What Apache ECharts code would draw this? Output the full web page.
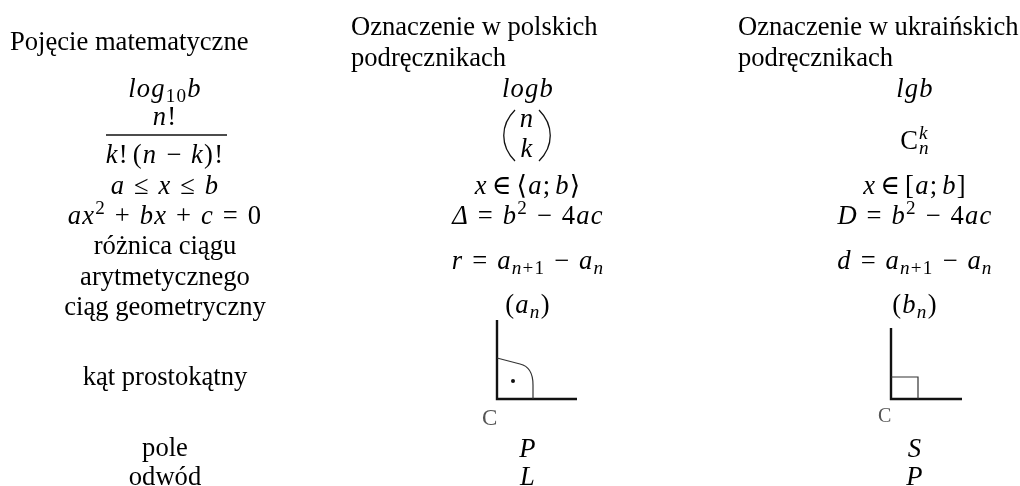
<!DOCTYPE html>
<html>
<head>
<meta charset="utf-8">
<style>html,body{margin:0;padding:0;background:#fff}#main{width:1020px;height:486px}</style>
<script src="https://cdn.jsdelivr.net/npm/echarts@6/dist/echarts.min.js"></script>
</head>
<body>
<div id="main"></div>
<script>
/********* table content *****************************/
var headerConcept = ['Pojęcie matematyczne'];
var headerPolish = ['Oznaczenie w polskich', 'podręcznikach'];
var headerUkrainian = ['Oznaczenie w ukraińskich', 'podręcznikach'];

// plain words of column one
var conceptWords = ['różnica ciągu', 'arytmetycznego', 'ciąg geometryczny', 'kąt prostokątny', 'pole', 'odwód'];
// formulas, _{} and ^{} are small text, \u2009 is a narrow gap
var conceptMath = ['log_{10}b', 'n!', 'k!\u2009(n − k)!', 'a ≤ x ≤ b', 'ax^{2} + bx + c = 0'];
var polishMath = ['logb', 'x\u2009∈\u2009⟨a;\u2009b⟩', 'Δ = b^{2} − 4ac', 'r = a_{n+1} − a_{n}', '(a_{n})', 'P', 'L'];
var ukrainianMath = ['lgb', 'C^{k}_{n}', 'x\u2009∈\u2009[a;\u2009b]', 'D = b^{2} − 4ac', 'd = a_{n+1} − a_{n}', '(b_{n})', 'S', 'P'];
var binomialParts = ['n', 'k'];
var cornerLabel = 'C';

/********* layout *****************************/
var col1 = 165, col2 = 528, col3 = 915;
var serif = '"Liberation Serif","DejaVu Serif",serif';
var textSize = 26.6, mathSize = 26.6;
var conceptWordY = [252, 283, 313, 383, 454, 483];
var conceptMathY = [95, 123, 161, 191.5, 222];
var polishMathY = [95, 191.5, 222, 267, 311, 455, 483];
var ukrainianMathY = [95, 147, 191.5, 222, 267, 311, 455, 483];

var ctx = document.createElement('canvas').getContext('2d');
var items = [];

function fontOf(size, italic) {
    return (italic ? 'italic ' : '') + size + 'px ' + serif;
}
function putText(str, x, baseline, size, italic, color) {
    items.push({
        type: 'text',
        x: x,
        y: baseline - size * 0.18,
        style: {
            text: str,
            font: fontOf(size, italic),
            fill: color || '#000',
            align: 'left',
            verticalAlign: 'middle'
        }
    });
}
// split a formula into runs: normal, sub, sup
function parseMath(str) {
    var runs = [], re = /([_^])\{([^}]*)\}|([^_^]+)/g, m;
    while ((m = re.exec(str))) {
        if (m[1]) runs.push({ text: m[2], kind: m[1] });
        else runs.push({ text: m[3], kind: '' });
    }
    return runs;
}
function charWidth(ch, size, italic) {
    ctx.font = fontOf(size, italic);
    return ctx.measureText(ch).width;
}
function isLetter(ch) {
    return /[a-zA-ZΔ]/.test(ch) && ch !== 'C'; // combination symbol C stays upright
}
function drawMath(str, cx, baseline, size) {
    var runs = parseMath(str);
    var pass, x, width = 0;
    for (pass = 0; pass < 2; pass++) {
        x = pass ? cx - width / 2 : 0;
        var prevKind = '', prevStart = 0;
        runs.forEach(function (run) {
            var sz = run.kind !== '' ? size * 0.72 : size;
            var shift = run.kind === '_' ? size * 0.2 : run.kind === '^' ? -size * 0.36 : 0;
            if (run.kind === '_' && prevKind === '^') x = prevStart;
            prevStart = x;
            prevKind = run.kind;
            run.text.split('').forEach(function (ch) {
                var italic = isLetter(ch);
                var w = ch === ' ' ? size * 0.33 : ch === '\u2009' ? size * 0.15 : charWidth(ch, sz, italic) + size * 0.045;
                if (pass && ch !== ' ' && ch !== '\u2009') putText(ch, x, baseline + shift, sz, italic);
                x += w;
            });
        });
        if (!pass) width = x;
    }
}
function drawCentered(str, cx, baseline, size) {
    ctx.font = fontOf(size, false);
    putText(str, cx - ctx.measureText(str).width / 2, baseline, size, false);
}
function line(points, width, color) {
    items.push({
        type: 'polyline',
        shape: { points: points },
        style: { stroke: color || '#111', lineWidth: width, fill: null }
    });
}
function curve(x1, y1, cx1, cy1, cx2, cy2, x2, y2, width, color) {
    items.push({
        type: 'bezierCurve',
        shape: { x1: x1, y1: y1, x2: x2, y2: y2, cpx1: cx1, cpy1: cy1, cpx2: cx2, cpy2: cy2 },
        style: { stroke: color || '#111', lineWidth: width, fill: null }
    });
}

/********* headers *****************************/
putText(headerConcept[0], 10, 47.5, textSize, false);
putText(headerPolish[0], 351, 33, textSize, false);
putText(headerPolish[1], 351, 63.5, textSize, false);
putText(headerUkrainian[0], 738, 33, textSize, false);
putText(headerUkrainian[1], 738, 63.5, textSize, false);

/********* columns *****************************/
conceptWords.forEach(function (w, i) { drawCentered(w, col1, conceptWordY[i], textSize); });
conceptMath.forEach(function (s, i) { drawMath(s, col1, conceptMathY[i], mathSize); });
polishMath.forEach(function (s, i) { drawMath(s, col2, polishMathY[i], mathSize); });
ukrainianMath.forEach(function (s, i) { drawMath(s, col3, ukrainianMathY[i], mathSize); });

// fraction bar
line([[106, 135], [227, 135]], 1.3);

// binomial
drawMath(binomialParts[0], 527, 125, mathSize);
drawMath(binomialParts[1], 527, 155, mathSize);
curve(515, 110, 500, 125, 500, 146, 515, 161, 1.3);
curve(539, 110, 554, 125, 554, 146, 539, 161, 1.3);

/********* right angle, polish *****************************/
line([[497, 320], [497, 399], [577, 399]], 2.4);
line([[497, 358], [520, 364]], 1.2, '#333');
curve(520, 364, 529, 366, 533, 374, 533, 385, 1.2, '#333');
line([[533, 385], [533, 399]], 1.2, '#333');
items.push({ type: 'circle', shape: { cx: 513, cy: 381, r: 2 }, style: { fill: '#111' } });
putText(cornerLabel, 482, 423, 23, false, '#555');

/********* right angle, ukrainian *****************************/
line([[891, 328], [891, 399], [962, 399]], 2.4);
line([[891, 377], [918, 377], [918, 399]], 1.2, '#333');
putText(cornerLabel, 878, 420, 20, false, '#555');

var dom = document.getElementById('main');
var myChart = echarts.init(dom);
var option = {
    backgroundColor: '#fff',
    animation: false,
    graphic: { elements: items }
};
myChart.setOption(option, true);
</script>
</body>
</html>
